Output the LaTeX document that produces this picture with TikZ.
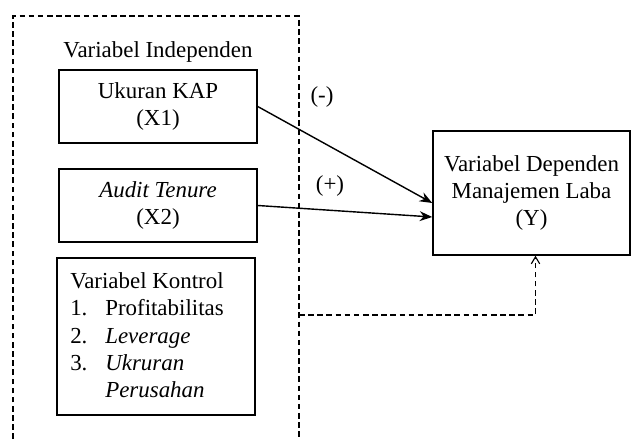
\documentclass[tikz,border=0pt]{standalone}
\usepackage{fontspec}
\setmainfont{Liberation Serif}
\usepackage{tikz}
\usetikzlibrary{arrows,arrows.meta,shapes,positioning}
\tikzstyle{varbox} = [draw, line width=1pt, minimum width=4.95cm, minimum height=1.825cm, align=center]
\tikzstyle{arrow} = [line width=1pt,-{Stealth[length=9pt,width=7pt]}]
\tikzstyle{dasharrow} = [line width=0.8pt,-{Straight Barb[length=5pt,width=6pt]},dash pattern=on 4pt off 2.5pt]

\begin{document}
\begin{tikzpicture}[x=0.025cm, y=-0.025cm, font=\fontsize{16.3}{19.5}\selectfont]
\useasboundingbox (0,0) rectangle (631,439);
% Independent group (dashed frame, open at the bottom)
\draw[line width=0.8pt, dash pattern=on 4pt off 2.5pt] (13,439) -- (13,16) -- (299,16) -- (299,439);
\node (indep) at (158,52) {Variabel Independen};

% Independent variables
\node[varbox] (x1) at (158,106.5) {Ukuran KAP\\(X1)};
\node[varbox] (x2) at (158,205.5) {\textit{Audit Tenure}\\(X2)};

% Control variables
\node[draw, line width=1pt, minimum width=4.95cm, minimum height=3.925cm] (kontrol) at (156,336.5) {};
\node[anchor=north west, inner sep=0pt, align=left] (kontroltext) at (70,272) {Variabel Kontrol\\
\makebox[0.875cm][l]{1.}Profitabilitas\\
\makebox[0.875cm][l]{2.}\textit{Leverage}\\
\makebox[0.875cm][l]{3.}\textit{Ukruran}\\
\makebox[0.875cm][l]{}\textit{Perusahan}};

% Dependent variable
\node[draw, line width=1pt, minimum width=4.925cm, minimum height=3.1cm, align=center] (dep) at (531.5,193) {Variabel Dependen\\Manajemen Laba\\(Y)};

% Relations
\draw[arrow] (x1.east) -- ([yshift=-0.25cm]dep.west);
\draw[arrow] (x2.east) -- ([yshift=-0.6cm]dep.west);
\node (neg) at (322,97) {(-)};
\node (pos) at (330,186) {(+)};

% Control relation
\coordinate (kontrolout) at (299,315);
\draw[dasharrow] (kontrolout) -| ([xshift=0.1cm]dep.south);
\end{tikzpicture}
\end{document}
